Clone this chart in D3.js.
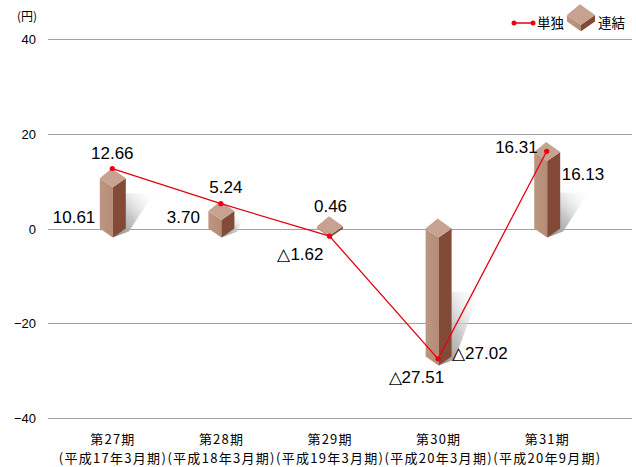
<!DOCTYPE html>
<html>
<head>
<meta charset="utf-8">
<script src="https://cdn.jsdelivr.net/npm/d3@7"></script>
<style>
  body { margin: 0; background: #fff; }
  text { font-family: "Liberation Sans", Arial, sans-serif; fill: #000; }
  .jp { font-family: "Noto Sans CJK JP", sans-serif; }
</style>
</head>
<body>
<div id="chart"></div>
<script>
// --- data ---
const categories = ["第27期", "第28期", "第29期", "第30期", "第31期"];
const periods = ["(平成17年3月期)", "(平成18年3月期)", "(平成19年3月期)", "(平成20年3月期)", "(平成20年9月期)"];
const tandoku = [12.66, 5.24, -1.62, -27.51, 16.31];   // 単独 (line)
const renketsu = [10.61, 3.70, 0.46, -27.02, 16.13];  // 連結 (3D pillars)
const yTicks = [40, 20, 0, -20, -40];

// label placement (layout only): [dx, dy, anchor]
const tandokuLabelPos = [[0, -10, "middle"], [5, -11, "middle"], [-6, 24, "end"], [6, 24, "end"], [-9, 2, "end"]];
const renketsuLabelPos = [[-17, 45, "end"], [-21, 12, "end"], [1, -14, "middle"], [14, 2, "start"], [15, 28, "start"]];

const width = 636, height = 467;
const svg = d3.select("#chart").append("svg").attr("width", width).attr("height", height);

const x = d3.scaleBand().domain(categories).range([58, 601]);
const y = d3.scaleLinear().domain([-40, 40]).range([418, 39]);
const cx = (i) => x(categories[i]) + x.bandwidth() / 2;

const fmt = (v) => (v < 0 ? "△" : "") + Math.abs(v).toFixed(2);

// gradients
const defs = svg.append("defs");
const sg = defs.append("linearGradient").attr("id", "shadow")
  .attr("x1", 0).attr("y1", 1).attr("x2", 0.9).attr("y2", 0.1);
sg.append("stop").attr("offset", "0%").attr("stop-color", "#8a8a8a").attr("stop-opacity", 1);
sg.append("stop").attr("offset", "50%").attr("stop-color", "#bdbdbd").attr("stop-opacity", 0.85);
sg.append("stop").attr("offset", "100%").attr("stop-color", "#f2f2f2").attr("stop-opacity", 0.2);
const fg = defs.append("linearGradient").attr("id", "front").attr("x1", 0).attr("x2", 1);
fg.append("stop").attr("offset", "0%").attr("stop-color", "#bd9682");
fg.append("stop").attr("offset", "100%").attr("stop-color", "#b58b76");

// --- grid & y axis ---
svg.append("g").selectAll("line").data(yTicks).join("line")
  .attr("x1", 48).attr("x2", 632)
  .attr("y1", (d) => Math.round(y(d)) + 0.5).attr("y2", (d) => Math.round(y(d)) + 0.5)
  .attr("stroke", "#a0a0a0").attr("stroke-width", 1);

svg.append("g").selectAll("text").data(yTicks).join("text")
  .attr("x", 36).attr("y", (d) => y(d) + 5)
  .attr("text-anchor", "end").attr("font-size", 13)
  .text((d) => (d < 0 ? "−" + Math.abs(d) : d));

svg.append("text").attr("class", "jp").attr("x", 17).attr("y", 21)
  .attr("font-size", 12).text("(円)");

// --- x labels ---
const xl = svg.append("g").selectAll("g").data(categories).join("g")
  .attr("transform", (d, i) => `translate(${cx(i)},0)`);
xl.append("text").attr("class", "jp").attr("y", 444).attr("text-anchor", "middle")
  .attr("font-size", 13).attr("textLength", 44).attr("lengthAdjust", "spacing")
  .text((d) => d);
xl.append("text").attr("class", "jp").attr("y", 463).attr("text-anchor", "middle")
  .attr("font-size", 13).attr("textLength", 107).attr("lengthAdjust", "spacing")
  .text((d, i) => periods[i]);

// --- pillars ---
const hw = 13, hh = 9;
function pillar(g, px, yTop, yBot, withShadow) {
  const h = yBot - yTop;
  if (withShadow && h > 4) {
    const sh = Math.min(h * 0.7, 36 + Math.max(0, h - 80) * 0.6);
    const dx = Math.min(sh * 0.8, 28);
    g.append("polygon")
      .attr("points", [[px + hw, yBot - sh], [px + hw + dx, yBot - sh], [px + hw + 3, yBot + 3], [px, yBot + hh]].join(" "))
      .attr("fill", "url(#shadow)");
  }
  g.append("polygon")
    .attr("points", [[px - hw, yTop], [px, yTop + hh], [px, yBot + hh], [px - hw, yBot]].join(" "))
    .attr("fill", "url(#front)");
  g.append("polygon")
    .attr("points", [[px, yTop + hh], [px + hw, yTop], [px + hw, yBot], [px, yBot + hh]].join(" "))
    .attr("fill", "#834b37");
  g.append("polygon")
    .attr("points", [[px - hw, yTop], [px - 1, yTop - hh - 1], [px + hw, yTop], [px, yTop + hh]].join(" "))
    .attr("fill", "#c8a290");
}

const bars = svg.append("g");
renketsu.forEach((v, i) => {
  const y0 = y(0), yv = y(v);
  pillar(bars.append("g"), cx(i) + 0.5, Math.min(y0, yv), Math.max(y0, yv), true);
});

// --- line ---
const line = d3.line().x((d, i) => cx(i)).y((d) => y(d));
svg.append("path").datum(tandoku).attr("d", line)
  .attr("fill", "none").attr("stroke", "#e60012").attr("stroke-width", 1.3);
svg.append("g").selectAll("circle").data(tandoku).join("circle")
  .attr("cx", (d, i) => cx(i)).attr("cy", (d) => y(d)).attr("r", 2.6).attr("fill", "#e60012");

// --- value labels ---
svg.append("g").selectAll("text").data(tandoku).join("text")
  .attr("x", (d, i) => cx(i) + tandokuLabelPos[i][0])
  .attr("y", (d, i) => y(d) + tandokuLabelPos[i][1])
  .attr("text-anchor", (d, i) => tandokuLabelPos[i][2])
  .attr("font-size", 17).text(fmt);
svg.append("g").selectAll("text").data(renketsu).join("text")
  .attr("x", (d, i) => cx(i) + renketsuLabelPos[i][0])
  .attr("y", (d, i) => y(d) + renketsuLabelPos[i][1])
  .attr("text-anchor", (d, i) => renketsuLabelPos[i][2])
  .attr("font-size", 17).text(fmt);

// --- legend ---
const lg = svg.append("g");
lg.append("line").attr("x1", 514).attr("x2", 533).attr("y1", 23).attr("y2", 23)
  .attr("stroke", "#e60012").attr("stroke-width", 1.5);
lg.selectAll("circle").data([514, 533]).join("circle")
  .attr("cx", (d) => d).attr("cy", 23).attr("r", 2.5).attr("fill", "#e60012");
lg.append("text").attr("class", "jp").attr("x", 537).attr("y", 28).attr("font-size", 13.5).text("単独");
const lgBox = lg.append("g").attr("transform", "translate(581,15) scale(1.08) translate(-581,-15)");
pillar(lgBox, 581, 15, 21, false);
lg.append("text").attr("class", "jp").attr("x", 598).attr("y", 28).attr("font-size", 13.5).text("連結");
</script>
</body>
</html>
